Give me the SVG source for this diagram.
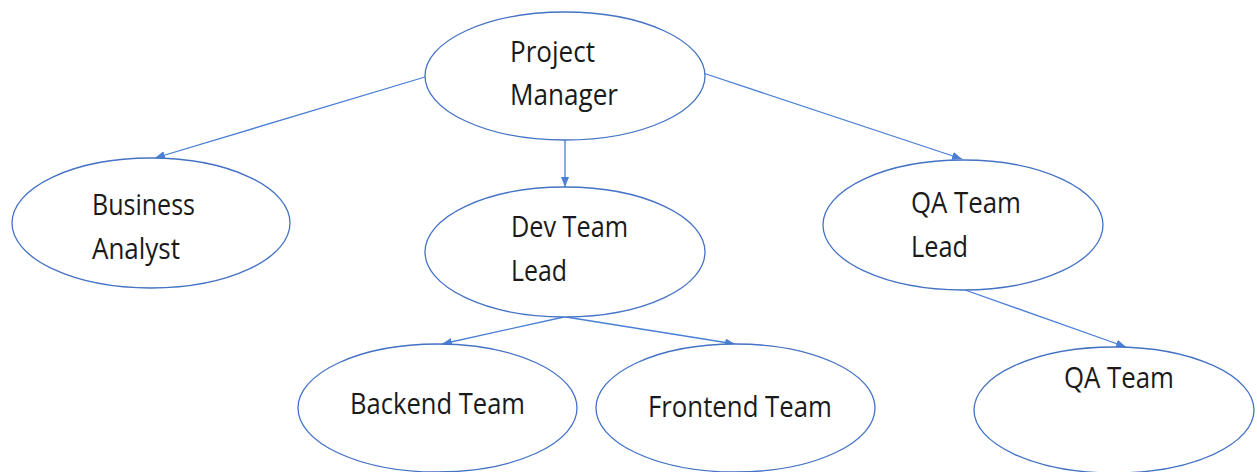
<svg xmlns="http://www.w3.org/2000/svg" width="1257" height="472" viewBox="0 0 1257 472">
  <style>
    .node ellipse { fill: #ffffff; stroke: #4472c4; stroke-width: 1.3; }
    .node text { font-family: "Open Sans", "Noto Sans", "Liberation Sans", sans-serif; font-size: 28.5px; fill: #1a1a1a; }
    .edges line { stroke: #4a7fd6; stroke-width: 1.3; marker-end: url(#arrow); }
  </style>
  <defs>
    <marker id="arrow" markerUnits="userSpaceOnUse" markerWidth="11" markerHeight="9" refX="10" refY="4" orient="auto">
      <path d="M0,0 L10,4 L0,8 z" fill="#4a7fd6"/>
    </marker>
  </defs>
  <rect width="1257" height="472" fill="#ffffff"/>

  <g id="edges" class="edges">
    <line x1="425" y1="77" x2="155" y2="158"/>
    <line x1="565" y1="140" x2="565" y2="187"/>
    <line x1="703" y1="73" x2="962" y2="159"/>
    <line x1="564" y1="317" x2="442" y2="344"/>
    <line x1="566" y1="317" x2="735" y2="344"/>
    <line x1="965" y1="290" x2="1126" y2="347"/>
  </g>

  <g id="project-manager" class="node">
    <ellipse cx="565" cy="76" rx="140" ry="64"/>
    <text x="510" y="62" textLength="85" lengthAdjust="spacingAndGlyphs">Project</text>
    <text x="510" y="105" textLength="108" lengthAdjust="spacingAndGlyphs">Manager</text>
  </g>

  <g id="business-analyst" class="node">
    <ellipse cx="151" cy="223" rx="139" ry="65"/>
    <text x="92" y="215" textLength="103" lengthAdjust="spacingAndGlyphs">Business</text>
    <text x="92" y="259" textLength="88" lengthAdjust="spacingAndGlyphs">Analyst</text>
  </g>

  <g id="dev-team-lead" class="node">
    <ellipse cx="565" cy="252" rx="140" ry="65"/>
    <text x="511" y="237" textLength="117" lengthAdjust="spacingAndGlyphs">Dev Team</text>
    <text x="511" y="281" textLength="56" lengthAdjust="spacingAndGlyphs">Lead</text>
  </g>

  <g id="qa-team-lead" class="node">
    <ellipse cx="963" cy="225" rx="140" ry="65"/>
    <text x="911" y="213" textLength="110" lengthAdjust="spacingAndGlyphs">QA Team</text>
    <text x="911" y="257" textLength="57" lengthAdjust="spacingAndGlyphs">Lead</text>
  </g>

  <g id="backend-team" class="node">
    <ellipse cx="437.5" cy="408" rx="139.5" ry="64"/>
    <text x="350" y="414" textLength="175" lengthAdjust="spacingAndGlyphs">Backend Team</text>
  </g>

  <g id="frontend-team" class="node">
    <ellipse cx="735.5" cy="408" rx="139.5" ry="64"/>
    <text x="648" y="417" textLength="184" lengthAdjust="spacingAndGlyphs">Frontend Team</text>
  </g>

  <g id="qa-team" class="node">
    <ellipse cx="1114" cy="410" rx="140" ry="63"/>
    <text x="1064" y="388" textLength="110" lengthAdjust="spacingAndGlyphs">QA Team</text>
  </g>
</svg>
